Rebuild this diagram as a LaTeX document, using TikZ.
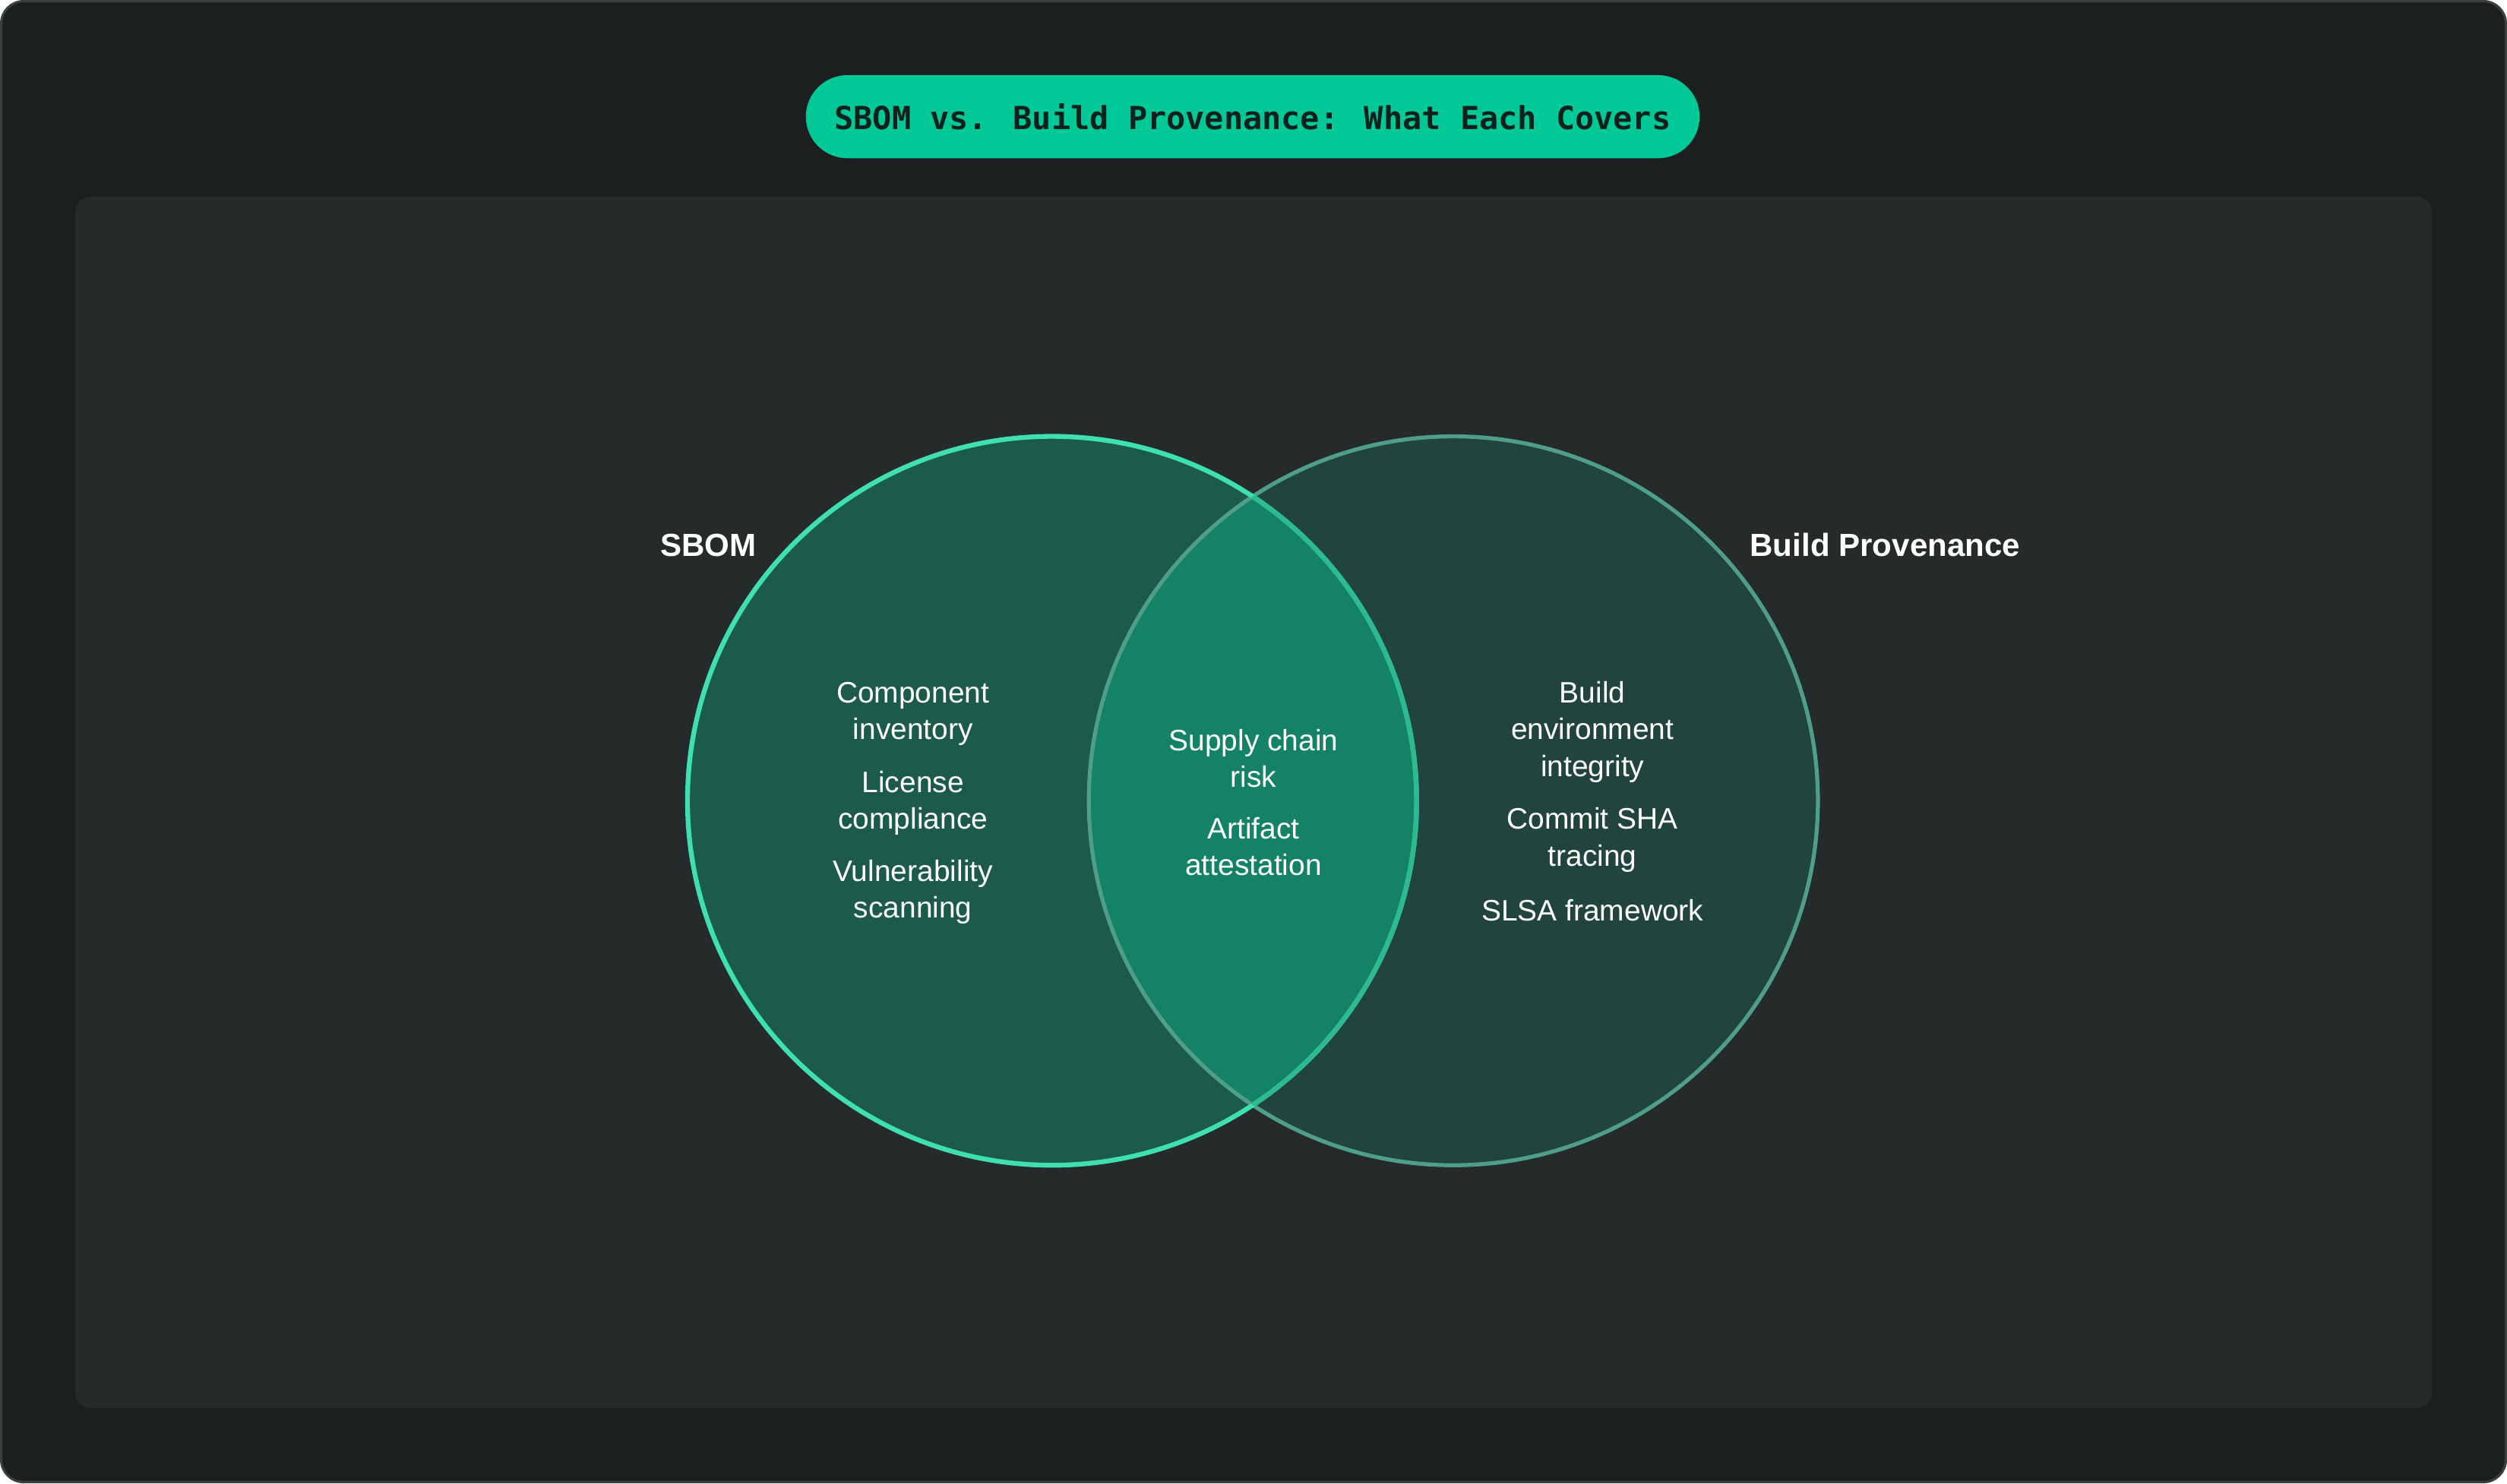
\documentclass[tikz,border=0pt]{standalone}
\usepackage{fontspec}
\setmainfont{Liberation Sans}
\newfontfamily\monof{DejaVu Sans Mono}
\definecolor{outerbg}{HTML}{1B1F1F}
\definecolor{outerln}{HTML}{3A4040}
\definecolor{panel}{HTML}{252A2A}
\definecolor{pill}{HTML}{00C896}
\definecolor{pilltx}{HTML}{10201C}
\definecolor{lfill}{HTML}{1C5A4A}
\definecolor{lline}{HTML}{3FE0B0}
\definecolor{rfill}{HTML}{21443C}
\definecolor{rline}{HTML}{4F9E88}
\definecolor{mfill}{HTML}{138266}
\tikzset{itm/.style={text=white,font=\fontsize{18.5}{23}\selectfont,align=center,inner sep=0pt},
lbl/.style={text=white,font=\fontsize{20}{24}\selectfont\bfseries,inner sep=0pt}}
\begin{document}
\begin{tikzpicture}[x=1pt,y=-1pt]
\useasboundingbox (0,0) rectangle (1568,928);
\fill[outerbg,draw=outerln,line width=1.5,rounded corners=14] (0.75,0.75) rectangle (1567.25,927.25);
\fill[panel,rounded corners=10] (47,123) rectangle (1521,881);
\node[fill=pill,rounded corners=26,minimum width=559,minimum height=52,text=pilltx,font=\monof\fontsize{19.9}{24}\selectfont\bfseries] (title) at (783.5,73) {SBOM vs. Build Provenance: What Each Covers};
\coordinate (L) at (658,501);
\coordinate (R) at (909,501);
\fill[rfill] (R) circle (228);
\fill[lfill] (L) circle (228);
\begin{scope}
\clip (L) circle (228);
\fill[mfill] (R) circle (228);
\end{scope}
\draw[rline,line width=2.5] (R) circle (228);
\draw[lline,line width=3] (L) circle (228);
\begin{scope}
\clip (R) circle (228);
\draw[color=lline!60!mfill,line width=3] (L) circle (228);
\end{scope}
\node[lbl] (sbom) at (443,341) {SBOM};
\node[lbl] (bp) at (1179,341) {Build Provenance};
\node[itm] (a1) at (571,446.5) {Component\\inventory};
\node[itm] (a2) at (571,502.5) {License\\compliance};
\node[itm] (a3) at (571,558) {Vulnerability\\scanning};
\node[itm] (m1) at (784,474.5) {Supply chain\\risk};
\node[itm] (m2) at (784,529.5) {Artifact\\attestation};
\node[itm] (b1) at (996,458) {Build\\environment\\integrity};
\node[itm] (b2) at (996,525.5) {Commit SHA\\tracing};
\node[itm] (b3) at (996,569.5) {SLSA framework};
\end{tikzpicture}
\end{document}
